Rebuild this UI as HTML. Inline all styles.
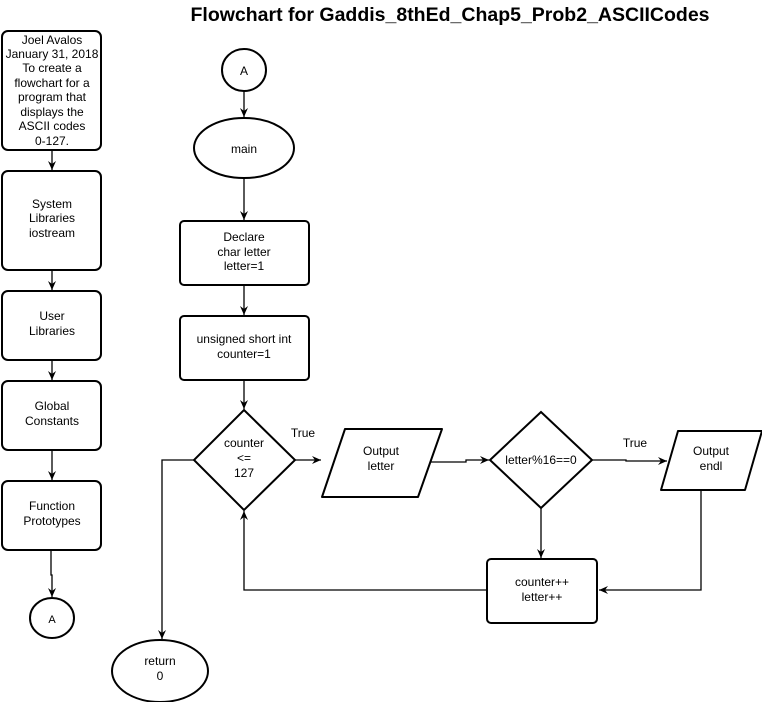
<!DOCTYPE html>
<html><head><style>
body{margin:0;background:#fff;}
svg{display:block;font-family:"Liberation Sans",sans-serif;}
</style></head><body>
<svg width="762" height="702" viewBox="0 0 762 702" xmlns="http://www.w3.org/2000/svg">
<defs><marker id="a" markerWidth="10" markerHeight="10" refX="9" refY="5" orient="auto" markerUnits="userSpaceOnUse"><path d="M0,1 L9,5 L0,9 L3,5 Z" fill="#000"/></marker></defs>
<text x="450" y="21" font-size="19.5" font-weight="bold" text-anchor="middle">Flowchart for Gaddis_8thEd_Chap5_Prob2_ASCIICodes</text>
<g fill="none" stroke="#000" stroke-width="2">
<rect x="2" y="31" width="99" height="119" rx="6"/>
<rect x="2" y="171" width="99" height="99" rx="6"/>
<rect x="2" y="291" width="99" height="69" rx="6"/>
<rect x="2" y="381" width="99" height="69" rx="6"/>
<rect x="2" y="481" width="99" height="69" rx="6"/>
<ellipse cx="52" cy="618" rx="22" ry="20"/>
<ellipse cx="244" cy="70" rx="22" ry="21"/>
<ellipse cx="244" cy="148" rx="50" ry="30"/>
<rect x="180" y="221" width="129" height="64" rx="4"/>
<rect x="180" y="316" width="129" height="64" rx="4"/>
<path d="M244,410 L295,460 L244,510 L194,460 Z"/>
<path d="M345,429 L442,429 L418,497 L322,497 Z" stroke-linejoin="round"/>
<path d="M541,412 L592,460 L541,508 L490,460 Z"/>
<path d="M678,431 L762,431 L745,490 L661,490 Z" stroke-linejoin="round"/>
<rect x="487" y="559" width="110" height="64" rx="4"/>
<ellipse cx="160" cy="671" rx="48" ry="31"/>
</g>
<g fill="none" stroke="#000" stroke-width="1.3">
<line x1="52" y1="150" x2="52" y2="170" marker-end="url(#a)"/>
<line x1="52" y1="270" x2="52" y2="290" marker-end="url(#a)"/>
<line x1="52" y1="360" x2="52" y2="380" marker-end="url(#a)"/>
<line x1="52" y1="450" x2="52" y2="480" marker-end="url(#a)"/>
<path d="M51,550 L51,575 L52,575 L52,597" marker-end="url(#a)"/>
<line x1="244" y1="91" x2="244" y2="117" marker-end="url(#a)"/>
<line x1="244" y1="178" x2="244" y2="220" marker-end="url(#a)"/>
<line x1="244" y1="285" x2="244" y2="315" marker-end="url(#a)"/>
<line x1="244" y1="380" x2="244" y2="409" marker-end="url(#a)"/>
<line x1="295" y1="460" x2="321" y2="460" marker-end="url(#a)"/>
<path d="M430,462 L466,462 L466,460 L489,460" marker-end="url(#a)"/>
<path d="M592,460 L626,460 L626,461 L667,461" marker-end="url(#a)"/>
<line x1="541" y1="508" x2="541" y2="558" marker-end="url(#a)"/>
<path d="M701,490 L701,590 L599,590" marker-end="url(#a)"/>
<path d="M487,590 L244,590 L244,511" marker-end="url(#a)"/>
<path d="M194,460 L162,460 L162,639" marker-end="url(#a)"/>
</g>
<g font-size="12" text-anchor="middle">
<text x="52" y="44">Joel Avalos</text>
<text x="52" y="58">January 31, 2018</text>
<text x="52" y="72">To create a</text>
<text x="52" y="87">flowchart for a</text>
<text x="52" y="101">program that</text>
<text x="52" y="116">displays the</text>
<text x="52" y="130">ASCII codes</text>
<text x="52" y="145">0-127.</text>
<text x="52" y="208">System</text>
<text x="52" y="222">Libraries</text>
<text x="52" y="237">iostream</text>
<text x="52" y="320">User</text>
<text x="52" y="335">Libraries</text>
<text x="52" y="410">Global</text>
<text x="52" y="425">Constants</text>
<text x="52" y="510">Function</text>
<text x="52" y="525">Prototypes</text>
<text x="52" y="623" font-size="11">A</text>
<text x="244" y="75">A</text>
<text x="244" y="153">main</text>
<text x="244" y="241">Declare</text>
<text x="244" y="256">char letter</text>
<text x="244" y="270">letter=1</text>
<text x="244" y="343">unsigned short int</text>
<text x="244" y="358">counter=1</text>
<text x="244" y="447">counter</text>
<text x="244" y="462">&lt;=</text>
<text x="244" y="477">127</text>
<text x="303" y="437">True</text>
<text x="381" y="455">Output</text>
<text x="381" y="470">letter</text>
<text x="541" y="464">letter%16==0</text>
<text x="635" y="447">True</text>
<text x="711" y="455">Output</text>
<text x="711" y="470">endl</text>
<text x="542" y="586">counter++</text>
<text x="542" y="601">letter++</text>
<text x="160" y="665">return</text>
<text x="160" y="680">0</text>
</g>
</svg>
</body></html>
